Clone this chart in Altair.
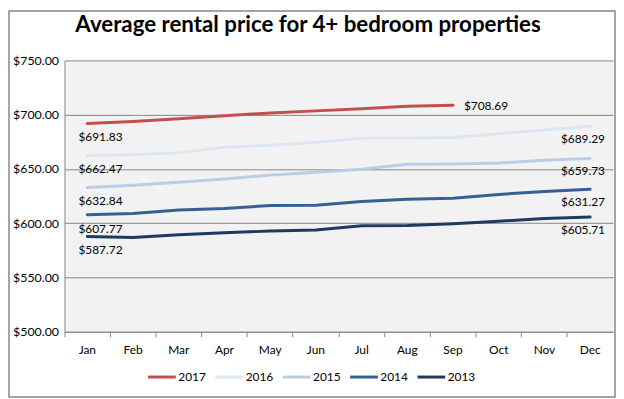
import altair as alt
import pandas as pd

months = ["Jan", "Feb", "Mar", "Apr", "May", "Jun", "Jul", "Aug", "Sep", "Oct", "Nov", "Dec"]
years = ["2017", "2016", "2015", "2014", "2013"]
v2017 = [691.83, 693.8, 696.2, 699.0, 701.6, 703.5, 705.4, 707.8, 708.69]
v2016 = [662.47, 663.2, 664.8, 670.0, 671.8, 674.5, 678.2, 678.4, 679.0, 682.5, 686.0, 689.29]
v2015 = [632.84, 635.0, 637.8, 640.7, 644.3, 647.0, 649.8, 654.3, 654.5, 655.5, 658.0, 659.73]
v2014 = [607.77, 609.0, 612.2, 613.5, 616.3, 616.6, 620.0, 622.0, 623.0, 626.5, 629.2, 631.27]
v2013 = [587.72, 586.8, 589.4, 591.2, 592.8, 593.8, 597.6, 597.8, 599.5, 601.8, 604.3, 605.71]
title_text = "Average rental price for 4+ bedroom properties"

colors = ["#C0504D", "#DCE6F2", "#B9CDE5", "#376092", "#1F3A5F"]
FONT = "Lato"
GRAY = "#878787"

series = {"2017": v2017, "2016": v2016, "2015": v2015, "2014": v2014, "2013": v2013}
rows = []
for yr, vals in series.items():
    for m, v in zip(months, vals):
        rows.append({"year": yr, "month": m, "value": v})
df = pd.DataFrame(rows)

first = pd.DataFrame([{"year": yr, "month": months[0], "value": vals[0],
                       "label": "${:.2f}".format(vals[0])} for yr, vals in series.items()])
last_full = pd.DataFrame([{"year": yr, "month": months[len(vals) - 1], "value": vals[-1],
                           "label": "${:.2f}".format(vals[-1])}
                          for yr, vals in series.items() if len(vals) == 12])
last_part = pd.DataFrame([{"year": yr, "month": months[len(vals) - 1], "value": vals[-1],
                           "label": "${:.2f}".format(vals[-1])}
                          for yr, vals in series.items() if len(vals) < 12])

W, H = 554, 274

x_enc = alt.X("month:N", sort=months,
              scale=alt.Scale(type="band", paddingInner=0, paddingOuter=0),
              axis=alt.Axis(title=None, labelAngle=0, bandPosition=0, grid=False,
                            domainColor=GRAY, tickColor=GRAY, tickSize=5,
                            labelPadding=8, labelFontSize=12, labelColor="#000000",
                            labelFont=FONT))
y_enc = alt.Y("value:Q", scale=alt.Scale(domain=[500, 750], nice=False, zero=False),
              axis=alt.Axis(title=None, values=[500, 550, 600, 650, 700, 750],
                            format="$,.2f", grid=True, gridColor=GRAY, ticks=False,
                            domainColor=GRAY, labelPadding=6, labelFontSize=12.5,
                            labelColor="#000000", labelFont=FONT))

lines = alt.Chart(df).mark_line(strokeWidth=3, strokeCap="round").encode(
    x=x_enc, y=y_enc,
    color=alt.Color("year:N", scale=alt.Scale(domain=years, range=colors),
                    legend=alt.Legend(title=None, orient="none", legendX=83, legendY=304,
                                      direction="horizontal", columns=5,
                                      symbolType="stroke", symbolStrokeWidth=3,
                                      symbolSize=784, labelFontSize=12, labelFont=FONT,
                                      labelColor="#000000", labelOffset=1,
                                      columnPadding=3)),
)

lab_first = alt.Chart(first).mark_text(align="left", baseline="middle", dx=-9, dy=14,
                                       fontSize=12, font=FONT, color="#000000").encode(
    x=alt.X("month:N", sort=months), y="value:Q", text="label:N")
lab_last = alt.Chart(last_full).mark_text(align="right", baseline="middle", dx=15, dy=13,
                                          fontSize=12, font=FONT, color="#000000").encode(
    x=alt.X("month:N", sort=months), y="value:Q", text="label:N")
lab_part = alt.Chart(last_part).mark_text(align="left", baseline="middle", dx=11, dy=1,
                                          fontSize=12, font=FONT, color="#000000").encode(
    x=alt.X("month:N", sort=months), y="value:Q", text="label:N")

deco = pd.DataFrame({"t": [title_text]})
border = alt.Chart(deco).mark_rect(fillOpacity=0, stroke=GRAY, strokeWidth=1.5).encode(
    x=alt.value(-56), x2=alt.value(556), y=alt.value(-50), y2=alt.value(340))
title = alt.Chart(deco).mark_text(align="center", baseline="middle", fontSize=22.5,
                                  fontWeight="bold", font=FONT, color="#000000").encode(
    x=alt.value(246), y=alt.value(-36), text="t:N")

chart = alt.layer(border, lines, lab_first, lab_last, lab_part, title).properties(
    width=W, height=H, padding=0, background="white"
).configure_view(fill="#F2F2F2", stroke="transparent")

chart.save("out.html", embed_options={"renderer": "svg", "actions": False})
